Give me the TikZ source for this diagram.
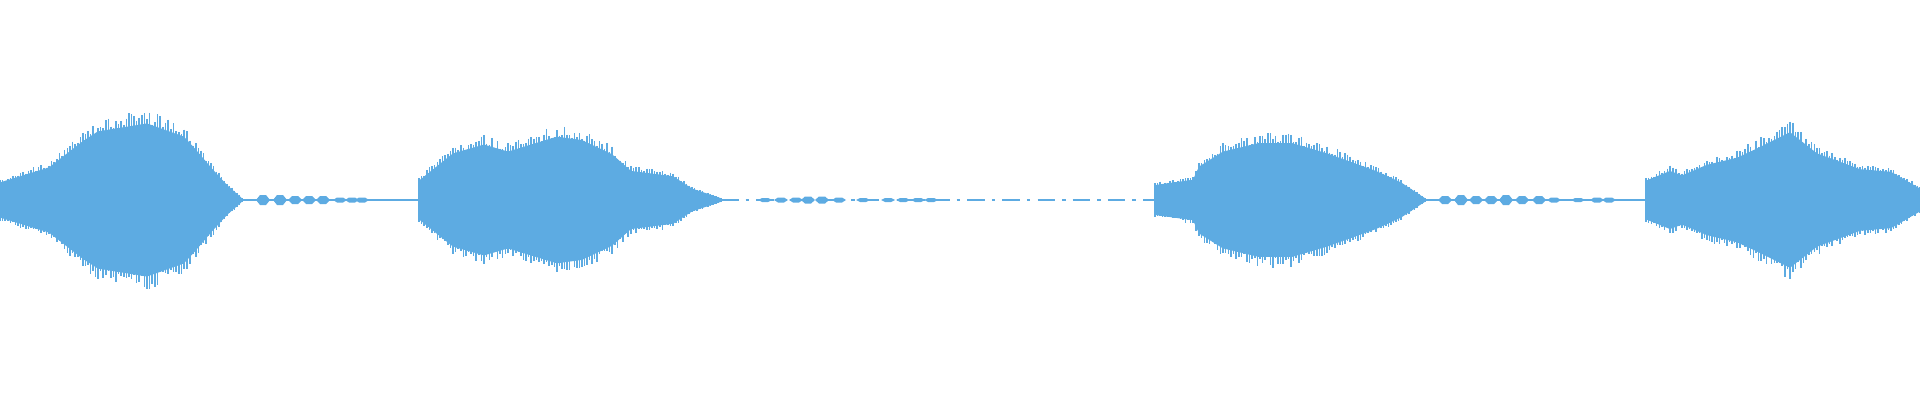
\documentclass[tikz,border=0pt]{standalone}
\begin{document}
\begin{tikzpicture}[x=0.01cm,y=-0.01cm]
\definecolor{wave}{RGB}{93,171,226}
\tikzset{base/.style={draw=wave,line width=0.5pt},
 spike/.style={draw=wave,line width=0.45pt},
 blip/.style={fill=wave}}
\useasboundingbox (0,0) rectangle (1920,400);
\pgfmathsetseed{11}
\foreach \xa/\ha/\xb/\hb in {
 0/20/49/37, 49/37/83/67, 83/67/98/78, 98/78/147/87, 147/87/184/72, 184/72/196/57, 196/57/211/37, 211/37/227/17, 227/17/242/2,
 419/22/453/53, 453/53/484/63, 484/63/508/55, 508/55/557/72, 557/72/582/68, 582/68/612/52, 612/52/631/33, 631/33/673/27, 673/27/692/13, 692/13/721/2,
 1155/17/1193/23, 1193/23/1199/38, 1199/38/1223/55, 1223/55/1260/65, 1260/65/1291/65, 1291/65/1327/53, 1327/53/1376/33, 1376/33/1401/20, 1401/20/1425/2,
 1646/22/1670/33, 1670/33/1682/28, 1682/28/1707/40, 1707/40/1737/48, 1737/48/1756/58, 1756/58/1790/77, 1790/77/1817/53, 1817/53/1860/35, 1860/35/1891/32, 1891/32/1920/13}{
  \fill[wave] (\xa,200-0.88*\ha) -- (\xb,200-0.88*\hb) -- (\xb,200+0.88*\hb) -- (\xa,200+0.88*\ha) -- cycle;
  \pgfmathtruncatemacro{\n}{max(1,(\xb-\xa)/2.5)}
  \foreach \i in {0,...,\n}{
    \pgfmathsetmacro{\xx}{\xa+(\xb-\xa)*\i/\n}
    \pgfmathsetmacro{\hh}{\ha+(\hb-\ha)*\i/\n}
    \pgfmathsetmacro{\up}{\hh*(0.88+0.16*rnd)}
    \pgfmathsetmacro{\dn}{\hh*(0.88+0.16*rnd)}
    \draw[spike] (\xx,200-\up) -- (\xx,200+\dn);
  }
}
% baselines
\draw[base] (242,200) -- (419,200);
\draw[base,dash pattern=on 5pt off 2pt on 1pt off 2pt] (721,200) -- (1155,200);
\draw[base] (1425,200) -- (1646,200);
% blips
\foreach \x/\h in {263/5,280/5,295/4,309/4,323/4,340/2.5,352/2.5,362/2.5,765/2,781/2.5,796/2.5,808/3.5,822/3.5,839/2.5,863/2,888/2,903/2,918/2,931/2,
 1445/4,1461/5,1476/4,1491/4,1506/5,1522/4,1539/4,1554/2.5,1578/2,1597/2.5,1609/2.5}
  \fill[blip] (\x-7,200) -- (\x-3,200-\h) -- (\x+3,200-\h) -- (\x+7,200) -- (\x+3,200+\h) -- (\x-3,200+\h) -- cycle;
\draw[spike] (419,178) -- (419,222);
\draw[spike] (1155,183) -- (1155,217);
\draw[spike] (1646,178) -- (1646,222);
\end{tikzpicture}
\end{document}
